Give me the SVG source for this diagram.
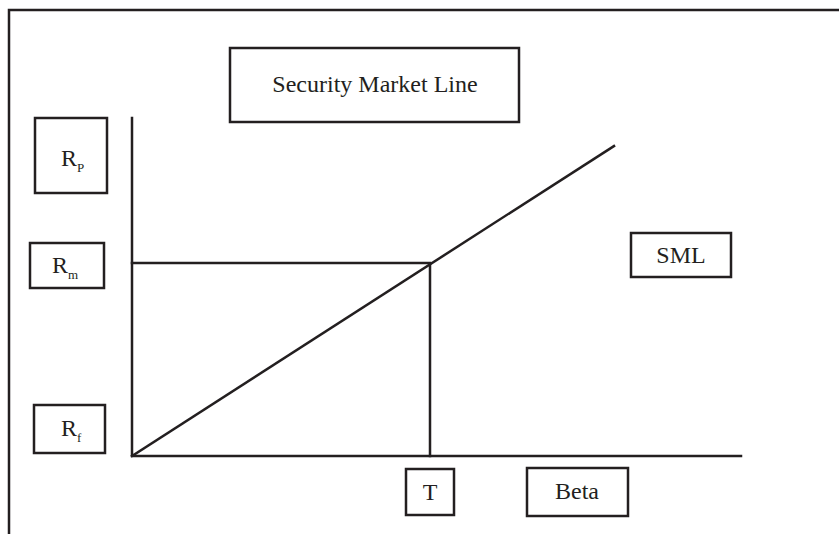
<svg xmlns="http://www.w3.org/2000/svg" width="839" height="534" viewBox="0 0 839 534">
<style>
.box{fill:#fff;stroke:#231f20;stroke-width:2.5}
.ln{stroke:#231f20;stroke-width:2.5;fill:none;stroke-linecap:square}
text{font-family:"Liberation Serif","Times New Roman",serif;fill:#231f20;font-size:24px}
.sub{font-size:13px}
</style>
<rect width="839" height="534" fill="#fff"/>
<g id="frame"><path class="ln" d="M9,534 V10 H839" stroke-linecap="butt"/></g>
<g id="connectors">
<path class="ln" d="M132,118 V456 H741"/>
<path class="ln" d="M132,456 L614,146"/>
<path class="ln" d="M132,263 H430 V456"/>
</g>
<g id="title"><rect class="box" x="230" y="48" width="289" height="74"/><text x="375" y="92" text-anchor="middle">Security Market Line</text></g>
<g id="rp"><rect class="box" x="35" y="118" width="72" height="75"/><text x="61" y="166">R<tspan class="sub" dy="6">P</tspan></text></g>
<g id="rm"><rect class="box" x="30" y="243" width="74" height="45"/><text x="52" y="273">R<tspan class="sub" dy="6">m</tspan></text></g>
<g id="rf"><rect class="box" x="34" y="405" width="71" height="48"/><text x="61" y="436">R<tspan class="sub" dy="6">f</tspan></text></g>
<g id="sml"><rect class="box" x="631" y="233" width="100" height="44"/><text x="681" y="263" text-anchor="middle">SML</text></g>
<g id="t"><rect class="box" x="406" y="469" width="48" height="46"/><text x="430" y="500" text-anchor="middle">T</text></g>
<g id="beta"><rect class="box" x="527" y="468" width="101" height="48"/><text x="577" y="499" text-anchor="middle">Beta</text></g>
</svg>
